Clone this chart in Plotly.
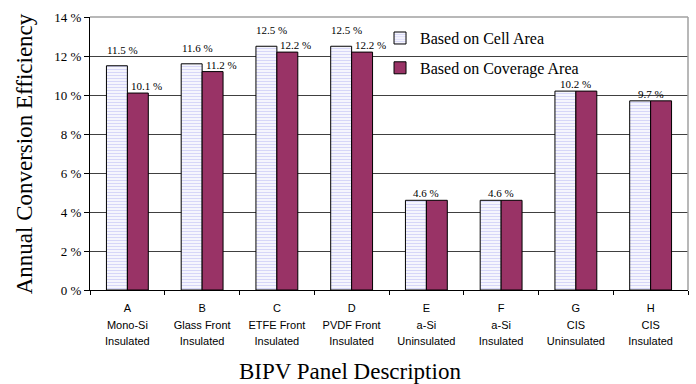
import plotly.graph_objects as go

# Panel types (letter, material, construction)
panel_letters = ["A", "B", "C", "D", "E", "F", "G", "H"]
panel_materials = ["Mono-Si", "Glass Front", "ETFE Front", "PVDF Front", "a-Si", "a-Si", "CIS", "CIS"]
panel_mounting = ["Insulated", "Insulated", "Insulated", "Insulated", "Uninsulated", "Insulated",
                  "Uninsulated", "Insulated"]

# Annual conversion efficiency (%)
cell_area_eff = [11.5, 11.6, 12.5, 12.5, 4.6, 4.6, 10.2, 9.7]
coverage_area_eff = [10.1, 11.2, 12.2, 12.2, 4.6, 4.6, 10.2, 9.7]

y_ticks = [0, 2, 4, 6, 8, 10, 12, 14]

# tick text is drawn at 11px inside a 13px label so the three lines sit further apart
categories = ["<br>".join(f"<span style='font-size:11px'>{part}</span>" for part in (l, m, c))
              for l, m, c in zip(panel_letters, panel_materials, panel_mounting)]

serif = "Liberation Serif, Times New Roman, serif"
sans = "Liberation Sans, Arial, sans-serif"
plum = "#993366"

fig = go.Figure()
fig.add_trace(go.Bar(
    name="Based on Cell Area", x=categories, y=cell_area_eff,
    legendgroup="cell",
    marker=dict(color="white", line=dict(color="black", width=1),
                pattern=dict(shape="-", fgcolor="#aeaef2", bgcolor="white", size=3, solidity=0.5)),
))
fig.add_trace(go.Bar(
    name="Based on Coverage Area", x=categories, y=coverage_area_eff,
    legendgroup="coverage",
    marker=dict(color=plum, line=dict(color="black", width=1)),
))

# value labels: one per bar, or one per group when both values agree
annotations = []
for cat, a, b in zip(categories, cell_area_eff, coverage_area_eff):
    if a == b:
        annotations.append(dict(x=cat, y=a, text=f"{a:.1f} %", xshift=0, yshift=-1))
    else:
        annotations.append(dict(x=cat, y=a, text=f"{a:.1f} %", xshift=-5, yshift=8))
        annotations.append(dict(x=cat, y=b, text=f"{b:.1f} %", xshift=19, yshift=-1))
for ann in annotations:
    ann.update(xref="x", yref="y", yanchor="bottom", showarrow=False,
               font=dict(family=serif, size=11, color="black"))

annotations.append(dict(xref="paper", yref="paper", x=-0.109, y=0.5, text="Annual Conversion Efficiency",
                        textangle=-90, showarrow=False, xanchor="center", yanchor="middle",
                        font=dict(family=serif, size=23, color="black")))
annotations.append(dict(xref="paper", yref="paper", x=0.435, y=-0.30, text="BIPV Panel Description",
                        showarrow=False, xanchor="center", yanchor="middle",
                        font=dict(family=serif, size=23, color="black")))

fig.update_layout(
    width=696, height=384,
    margin=dict(l=90, r=8, t=17, b=94),
    paper_bgcolor="white", plot_bgcolor="white",
    barmode="group", bargap=0.44, bargroupgap=0,
    showlegend=True,
    legend=dict(x=0.485, y=0.985, xanchor="left", yanchor="top", bgcolor="rgba(0,0,0,0)",
                font=dict(family=serif, size=16, color="black"), tracegroupgap=6),
    annotations=annotations,
    shapes=[
        dict(type="line", xref="paper", yref="paper", x0=0, x1=1, y0=1, y1=1,
             line=dict(color="#a0a0a0", width=1.5)),
        dict(type="line", xref="paper", yref="paper", x0=1, x1=1, y0=0, y1=1,
             line=dict(color="#a0a0a0", width=1.5)),
    ],
)

fig.update_yaxes(range=[0, 14], tickvals=y_ticks, ticktext=[f"{v} %" for v in y_ticks],
                 showgrid=True, gridcolor="#404040", gridwidth=1,
                 showline=True, linecolor="black", linewidth=1,
                 ticks="outside", ticklen=5, tickcolor="black",
                 tickfont=dict(family=serif, size=13, color="black"), zeroline=False)
fig.update_xaxes(type="category", tickson="boundaries", ticks="outside", ticklen=4, tickcolor="black",
                 showline=True, linecolor="black", linewidth=1, showgrid=False,
                 ticklabelstandoff=5,
                 tickfont=dict(family=sans, size=13, color="black"))

fig.write_html("out.html")
